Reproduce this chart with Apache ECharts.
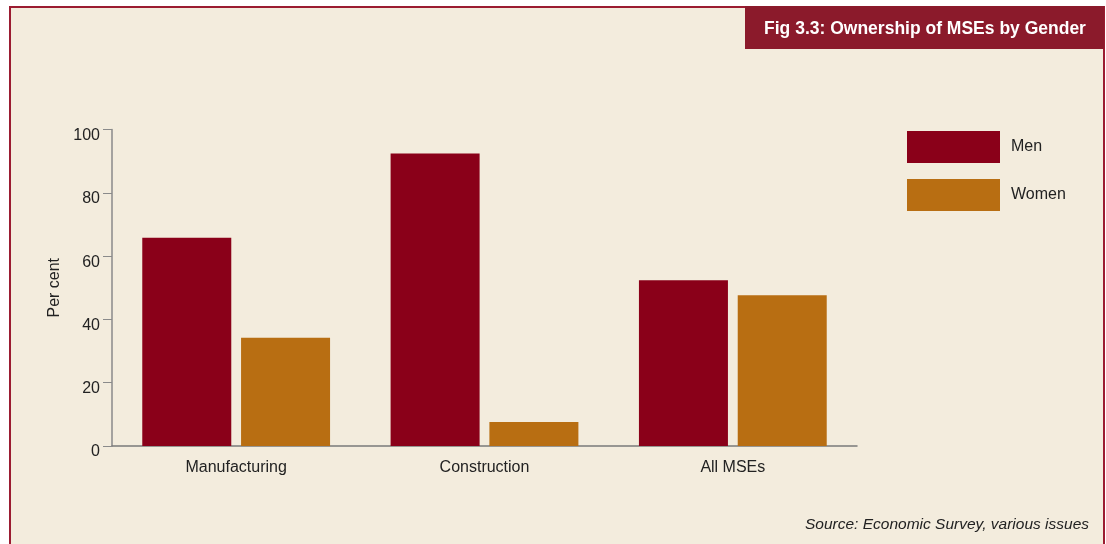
<!DOCTYPE html>
<html>
<head>
<meta charset="utf-8">
<style>
  html, body { margin: 0; padding: 0; background: #ffffff; }
  #chart { width: 1106px; height: 544px; }
</style>
<script src="https://cdn.jsdelivr.net/npm/echarts@6/dist/echarts.min.js"></script>
</head>
<body>
<div id="chart"></div>
<script>
// Ownership of micro and small enterprises, split by the owner's gender (per cent)
const categories = ['Manufacturing', 'Construction', 'All MSEs'];
const menShare = [65.8, 92.4, 52.4];
const womenShare = [34.2, 7.6, 47.6];
const yTicks = { min: 0, max: 100, interval: 20 };

const FONT = "'Liberation Sans', 'Arial', sans-serif";
const MEN = '#8a0019';
const WOMEN = '#b86e12';
const FRAME = '#9b1c31';

const chart = echarts.init(document.getElementById('chart'), null, { renderer: 'canvas' });

chart.setOption({
  backgroundColor: '#ffffff',
  animation: false,
  textStyle: { fontFamily: FONT },
  graphic: [
    {
      type: 'rect', z: -10, silent: true,
      shape: { x: 10, y: 7, width: 1094, height: 560 },
      style: { fill: '#f3ecdd', stroke: FRAME, lineWidth: 2 }
    },
    {
      type: 'rect', z: 5, silent: true,
      shape: { x: 745, y: 6, width: 359, height: 43 },
      style: { fill: '#8b1a2b' }
    },
    {
      type: 'text', z: 6, silent: true,
      x: 925, y: 29,
      style: {
        text: 'Fig 3.3: Ownership of MSEs by Gender',
        fill: '#ffffff', font: "bold 17.5px " + FONT,
        align: 'center', verticalAlign: 'middle'
      }
    },
    {
      type: 'text', z: 6, silent: true,
      x: 1089, y: 525,
      style: {
        text: 'Source: Economic Survey, various issues',
        fill: '#222222', font: "italic 15.5px " + FONT,
        align: 'right', verticalAlign: 'middle'
      }
    }
  ],
  legend: {
    orient: 'vertical',
    left: 907, top: 131,
    padding: 0,
    itemWidth: 93, itemHeight: 32, itemGap: 16,
    icon: 'rect',
    textStyle: { fontFamily: FONT, fontSize: 16, color: '#222222', padding: [0, 0, 0, 6] },
    data: ['Men', 'Women']
  },
  grid: { left: 112, right: 249, top: 129.5, bottom: 98, containLabel: false },
  xAxis: {
    type: 'category',
    data: categories,
    axisLine: { lineStyle: { color: '#7a7a7a', width: 1.5 } },
    axisTick: { inside: true, length: 8, lineStyle: { color: '#7a7a7a' } },
    axisLabel: { fontFamily: FONT, fontSize: 16, color: '#222222', margin: 14 }
  },
  yAxis: {
    type: 'value',
    min: yTicks.min, max: yTicks.max, interval: yTicks.interval,
    name: 'Per cent',
    nameLocation: 'middle',
    nameGap: 40,
    nameRotate: 90,
    nameTextStyle: { fontFamily: FONT, fontSize: 16, color: '#222222' },
    axisLine: { show: true, lineStyle: { color: '#8a8a8a', width: 1.5 } },
    axisTick: { show: true, length: 9, lineStyle: { color: '#8a8a8a' } },
    axisLabel: {
      fontFamily: FONT, fontSize: 16, color: '#222222', margin: 12,
      verticalAlign: 'top', lineHeight: 12
    },
    splitLine: { show: false }
  },
  series: [
    {
      name: 'Men', type: 'bar', data: menShare,
      itemStyle: { color: MEN },
      barWidth: 89, barGap: '11%'
    },
    {
      name: 'Women', type: 'bar', data: womenShare,
      itemStyle: { color: WOMEN },
      barWidth: 89, barGap: '11%'
    }
  ]
});
</script>
</body>
</html>
